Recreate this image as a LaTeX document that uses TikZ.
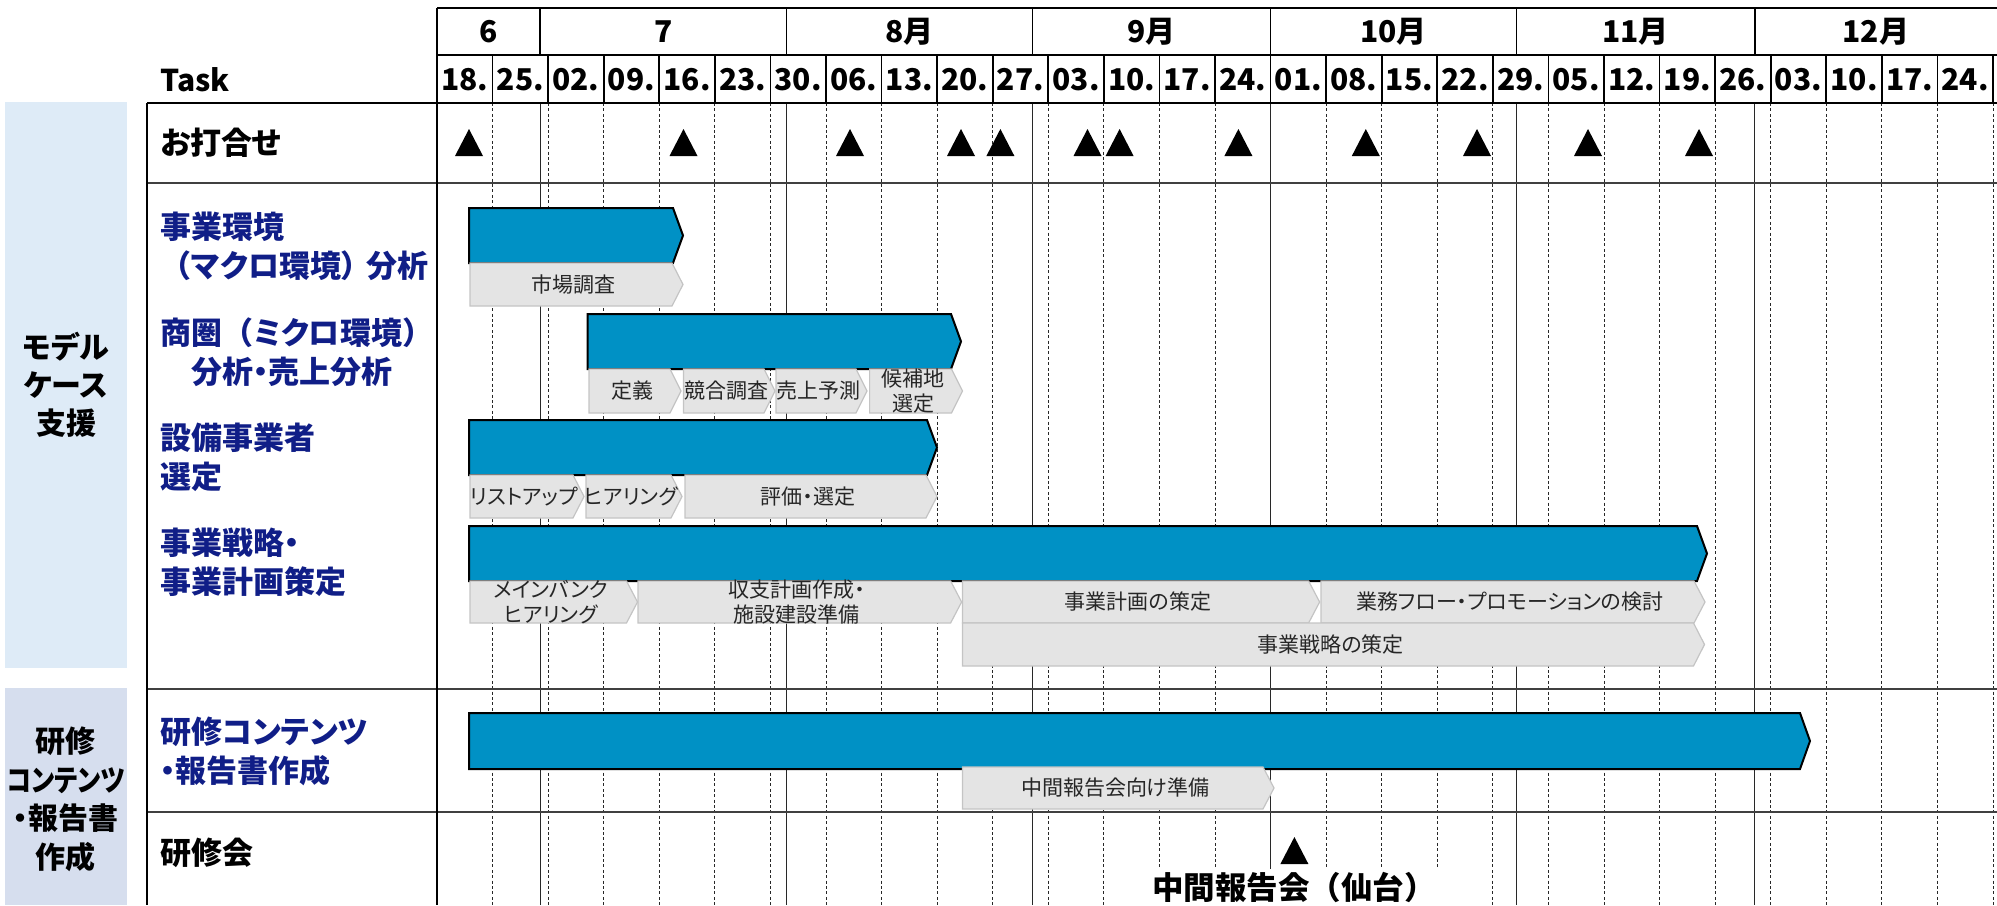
\documentclass[tikz,border=0pt]{standalone}
\usepackage{fontspec}
\setmainfont{Noto Sans CJK JP}[RawFeature={+palt}]
\newfontfamily\jpfull{Noto Sans CJK JP}
\definecolor{barblue}{RGB}{0,145,197}
\definecolor{navy}{RGB}{16,30,135}
\definecolor{chevgray}{RGB}{228,228,228}
\definecolor{chevline}{RGB}{196,196,196}
\definecolor{panelA}{RGB}{222,235,247}
\definecolor{panelB}{RGB}{214,222,238}
\definecolor{gridc}{RGB}{40,40,40}
\newcommand\fwp[1]{{\jpfull #1}}
\tikzset{
  hdrline/.style={line width=0.8pt, black},
  thickline/.style={line width=1.2pt, black},
  monthline/.style={line width=0.55pt, gridc},
  weekline/.style={line width=0.45pt, gridc, dash pattern=on 1.5pt off 1.2pt},
  rowline/.style={line width=0.55pt, black!75},
  bluebar/.style={fill=barblue, draw=black, line width=1pt, line join=miter},
  chev/.style={fill=chevgray, draw=chevline, line width=0.6pt},
  chevtext/.style={font=\fontsize{10.5}{12.4}\selectfont, text=black!85, align=center, inner sep=0pt},
  lbl/.style={font=\bfseries\fontsize{15.5}{19.5}\selectfont, text=navy, align=left, anchor=west, inner sep=0pt},
  blacklbl/.style={lbl, text=black},
  hdrtext/.style={font=\bfseries\fontsize{15}{18}\selectfont, inner sep=0pt},
  paneltext/.style={font=\bfseries\fontsize{15}{19}\selectfont, align=center, inner sep=0pt},
}
\newcommand\bluearrow[5]{%
  \draw[bluebar] (#2,#4) -- ({#3-10},#4) -- (#3,{(#4+#5)/2}) -- ({#3-10},#5) -- (#2,#5) -- cycle;}
\newcommand\grayarrow[6]{%
  \draw[chev] (#2,#4) -- ({#3-11},#4) -- (#3,{(#4+#5)/2}) -- ({#3-11},#5) -- (#2,#5) -- cycle;
  \node[chevtext] (#1) at ({(#2+#3-6)/2},{(#4+#5)/2}) {#6};}
\begin{document}
\begin{tikzpicture}[x=0.5pt,y=-0.5pt]
\useasboundingbox (0,0) rectangle (1997,905);
\clip (0,0) rectangle (1997,905);
% left panels
\fill[panelA] (4.5,102) rectangle (127,668);
\fill[panelB] (4.5,688) rectangle (127,905);
\node[paneltext] (p1) at (66,385) {モデル\\ケース\\支援};
\node[paneltext, font=\bfseries\fontsize{15}{19.25}\selectfont] (p2) at (66,799.5) {研修\\\scalebox{0.84}[1]{コンテンツ}\\・報告書\\作成};

% body grid
\foreach \k in {1,...,28} {
  \ifnum\k=15\relax\else
    \draw[weekline] ({437+55.571*\k},103) -- ({437+55.571*\k},905);
  \fi
}
\foreach \mx in {540.2,786.3,1032.4,1270.6,1516.6,1754.8} {
  \draw[monthline] (\mx,103) -- (\mx,905);
  \draw[hdrline] (\mx,8) -- (\mx,55);
}
\foreach \k in {1,...,28} {
  \draw[hdrline] ({437+55.571*\k},55) -- ({437+55.571*\k},103);
}
\draw[rowline] (147,183) -- (1997,183);
\draw[rowline] (147,689) -- (1997,689);
\draw[rowline] (147,812) -- (1997,812);
\draw[hdrline] (437,8) -- (1997,8);
\draw[hdrline] (437,55) -- (1997,55);
\draw[hdrline] (437,8) -- (437,905);
\draw[thickline] (147,103) -- (1997,103);
\draw[thickline] (147,103) -- (147,905);

% header text
\node[hdrtext, anchor=west] (task) at (160,80) {Task};
\node[hdrtext] (m6) at (488.6,32) {6};
\node[hdrtext] (m7) at (663.3,32) {7};
\node[hdrtext] (m8) at (909.4,32) {8月};
\node[hdrtext] (m9) at (1151.5,32) {9月};
\node[hdrtext] (m10) at (1393.6,32) {10月};
\node[hdrtext] (m11) at (1635.7,32) {11月};
\node[hdrtext] (m12) at (1875.9,32) {12月};
\foreach \lab [count=\i from 0] in {18.,25.,02.,09.,16.,23.,30.,06.,13.,20.,27.,03.,10.,17.,24.,01.,08.,15.,22.,29.,05.,12.,19.,26.,03.,10.,17.,24.} {
  \node[hdrtext] (w\i) at ({437+55.571*(\i+0.5)},80) {\lab};
}

% row labels
\node[blacklbl] (r0) at (160,143) {お打合せ};
\node[lbl] (r1) at (160,246) {事業環境\\\fwp{（}マクロ環境）\hspace{0.3em}分析};
\node[lbl] (r2) at (160,352) {商圏\fwp{（}ミクロ環境\fwp{）}\\\hspace*{1em}分析・売上分析};
\node[lbl] (r3) at (160,457.5) {設備事業者\\選定};
\node[lbl] (r4) at (160,562.5) {事業戦略・\\事業計画策定};
\node[lbl] (r5) at (160,751.5) {研修コンテンツ\\・報告書作成};
\node[blacklbl] (r6) at (160,853) {研修会};

% blue bars
\bluearrow{b1}{469}{683}{208}{263}
\bluearrow{b2}{587.5}{961}{314}{369}
\bluearrow{b3}{469}{937}{420}{475}
\bluearrow{b4}{469}{1707}{526}{581}
\bluearrow{b5}{469}{1810}{713}{769}

% gray steps
\grayarrow{g1}{470}{683}{263}{306}{市場調査}
\grayarrow{g2}{589}{681}{369}{413}{定義}
\grayarrow{g3}{683.5}{775}{369}{413}{競合調査}
\grayarrow{g4}{776}{867}{369}{413}{売上予測}
\grayarrow{g5}{869.6}{962.5}{369}{413}{候補地\\選定}
\grayarrow{g6}{470}{584}{475}{518}{リストアップ}
\grayarrow{g7}{586}{682}{475}{518}{ヒアリング}
\grayarrow{g8}{685}{937}{475}{518}{評価・選定}
\grayarrow{g9}{470}{637.5}{581}{623}{メインバンク\\ヒアリング}
\grayarrow{g10}{638}{961.6}{581}{623}{収支計画作成・\\施設建設準備}
\grayarrow{g11}{962.5}{1319.6}{581}{623}{事業計画の策定}
\grayarrow{g12}{1321}{1705}{581}{623}{業務フロー・プロモーションの検討}
\grayarrow{g13}{962.5}{1704.5}{623}{666}{事業戦略の策定}
\grayarrow{g14}{962.5}{1274}{767}{809}{中間報告会向け準備}

% meeting milestones
\foreach \mx in {469,683.5,850,961,1000.4,1087.5,1119.6,1238.4,1365.8,1477,1588,1699} {
  \fill ({\mx-14},156) -- ({\mx+14},156) -- (\mx,129) -- cycle;
}
% training milestone
\node[fill=white, inner xsep=1.5pt, inner ysep=1.5pt, font=\bfseries\fontsize{15.75}{18}\selectfont] (mid) at (1294,887) {中間報告会\fwp{（}仙台\fwp{）}};
\fill (1280.4,864) -- (1308.4,864) -- (1294.4,837) -- cycle;
\end{tikzpicture}
\end{document}
